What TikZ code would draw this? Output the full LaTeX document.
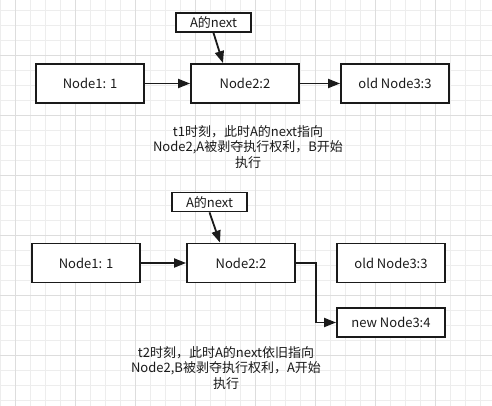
\documentclass[tikz,border=0pt]{standalone}
\usepackage{fontspec}
\setmainfont{Noto Sans CJK SC}
\usetikzlibrary{arrows.meta,calc}
\definecolor{minorgrid}{HTML}{EDEDED}
\definecolor{majorgrid}{HTML}{DDDDDD}
\definecolor{ink}{HTML}{1A1A1A}
\tikzset{
  box/.style={draw=ink, line width=1.8pt, fill=white, minimum width=108pt, minimum height=39pt, inner sep=0pt, text=ink, font=\fontsize{13}{15}\selectfont},
  tag/.style={draw=ink, line width=1.8pt, fill=white, minimum width=75pt, minimum height=19pt, inner sep=0pt, text=ink, font=\fontsize{13}{15}\selectfont},
  note/.style={align=center, text=ink, inner sep=0pt, font=\fontsize{13}{15.5}\selectfont},
  arr/.style={draw=ink, line width=1.8pt, -{Triangle[length=12pt,width=9pt]}},
}
\begin{document}
\begin{tikzpicture}[x=1pt,y=-1pt]
\useasboundingbox (0,0) rectangle (492,406);
\fill[white] (0,0) rectangle (492,406);
% grid
\foreach \i in {0,...,32} {
  \draw[minorgrid, line width=0.8pt] (15*\i,0) -- (15*\i,406);
}
\foreach \j in {0,...,26} {
  \draw[minorgrid, line width=0.8pt] (0,10+15*\j) -- (492,10+15*\j);
}
\foreach \i in {0,...,8} {
  \draw[majorgrid, line width=0.8pt] (15+60*\i,0) -- (15+60*\i,406);
}
\foreach \j in {0,...,6} {
  \draw[majorgrid, line width=0.8pt] (0,55+60*\j) -- (492,55+60*\j);
}
% top diagram
\node[box] (n1) at (90,83.5) {Node1: 1};
\node[box] (n2) at (245,83.5) {Node2:2};
\node[box] (n3) at (395,83.5) {old Node3:3};
\node[tag] (a1) at (213.5,22.5) {A的next};
\draw[arr] (n1) -- (n2);
\draw[arr] (n2) -- (n3);
\coordinate (p1) at ($(n2.north)+(-22,0)$);
\draw[arr] (a1.south) -- (p1);
\node[note] (t1) at (248,147) {t1时刻，此时A的next指向\\Node2,A被剥夺执行权利，B开始\\执行};
% bottom diagram
\node[box] (m1) at (86,263) {Node1: 1};
\node[box] (m2) at (241,263) {Node2:2};
\node[box] (m3) at (391,263) {old Node3:3};
\node[box, minimum height=29pt] (m4) at (391,322.5) {new Node3:4};
\node[tag] (a2) at (209.5,202) {A的next};
\draw[arr] (m1) -- (m2);
\coordinate (p2) at ($(m2.north)+(-21,0)$);
\draw[arr] (a2.south) -- (p2);
\coordinate (q2) at ($(m2.east)+(20,0)$);
\draw[arr] (m2.east) -- (q2) |- (m4.west);
\node[note] (t2) at (226,368) {t2时刻，此时A的next依旧指向\\Node2,B被剥夺执行权利，A开始\\执行};
\end{tikzpicture}
\end{document}
